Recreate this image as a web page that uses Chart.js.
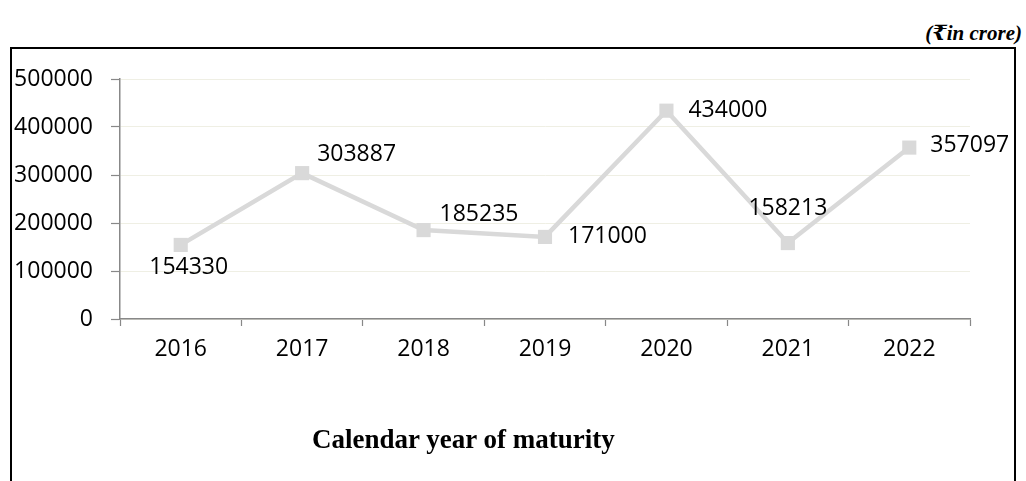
<!DOCTYPE html>
<html>
<head>
<meta charset="utf-8">
<script src="https://cdn.jsdelivr.net/npm/chart.js@4.4.1/dist/chart.umd.min.js"></script>
<style>
  html, body { margin: 0; padding: 0; background: #fff; }
  body { width: 1026px; height: 481px; position: relative; overflow: hidden; }
  #frame { position: absolute; left: 10px; top: 47px; width: 1006px; height: 500px; border: 2px solid #000; box-sizing: border-box; }
  #unit { position: absolute; right: 4px; top: 20px; font: italic bold 21px "Liberation Serif", "DejaVu Serif", serif; color: #000; }
  #xtitle { position: absolute; left: 312px; top: 424px; font: bold 27px "Liberation Serif", serif; color: #000; white-space: nowrap; }
  #wrap { position: absolute; left: 0; top: 0; width: 1026px; height: 481px; }
</style>
</head>
<body>
<div id="frame"></div>
<div id="unit">(₹in crore)</div>
<div id="wrap"><canvas id="c" width="1026" height="481"></canvas></div>
<div id="xtitle">Calendar year of maturity</div>
<script>
const years = ["2016", "2017", "2018", "2019", "2020", "2021", "2022"];
const maturities = [154330, 303887, 185235, 171000, 434000, 158213, 357097];
const yTicks = [0, 100000, 200000, 300000, 400000, 500000];

const FONT = { family: "'Open Sans', sans-serif", size: 23 };

// label placement relative to each point: [dx, dy, align]
const labelPlacement = [
  [8, 23, 'center'],
  [15, -19, 'left'],
  [16, -16, 'left'],
  [23, 0, 'left'],
  [22, 0, 'left'],
  [0, -35, 'center'],
  [21, -2, 'left']
];

const valueLabels = {
  id: 'valueLabels',
  afterDatasetsDraw(chart) {
    const ctx = chart.ctx;
    const meta = chart.getDatasetMeta(0);
    ctx.save();
    ctx.font = FONT.size + "px " + FONT.family;
    ctx.fillStyle = '#000';
    ctx.textBaseline = 'middle';
    meta.data.forEach((pt, i) => {
      const p = labelPlacement[i];
      ctx.textAlign = p[2];
      ctx.fillText(String(maturities[i]), pt.x + p[0], pt.y + p[1]);
    });
    ctx.restore();
  }
};

new Chart(document.getElementById('c'), {
  type: 'line',
  data: {
    labels: years,
    datasets: [{
      data: maturities,
      borderColor: '#d9d9d9',
      backgroundColor: '#d9d9d9',
      borderWidth: 4.5,
      pointStyle: 'rect',
      pointRadius: 10,
      pointBorderWidth: 0,
      pointHoverRadius: 10,
      tension: 0,
      fill: false
    }]
  },
  options: {
    responsive: false,
    animation: false,
    events: [],
    layout: { padding: { left: 12, right: 56, top: 79, bottom: 114 } },
    plugins: { legend: { display: false }, tooltip: { enabled: false }, title: { display: false } },
    scales: {
      x: {
        offset: true,
        afterFit(s) { s.height = 48; },
        grid: { offset: true, drawOnChartArea: false, tickLength: 7, tickColor: '#888', tickWidth: 1.2 },
        border: { color: '#888', width: 1.5 },
        ticks: { color: '#000', font: FONT, padding: 10, maxRotation: 0 }
      },
      y: {
        min: 0, max: 500000,
        afterFit(s) { s.width = 108; },
        afterBuildTicks(s) { s.ticks = yTicks.map(v => ({ value: v })); },
        grid: { color: '#efefe4', lineWidth: 1, tickLength: 9, tickColor: '#888', tickWidth: 1.2 },
        border: { color: '#888', width: 1.5 },
        ticks: { color: '#000', font: FONT, padding: 18, callback: (v) => String(v) }
      }
    }
  },
  plugins: [valueLabels]
});
</script>
</body>
</html>
